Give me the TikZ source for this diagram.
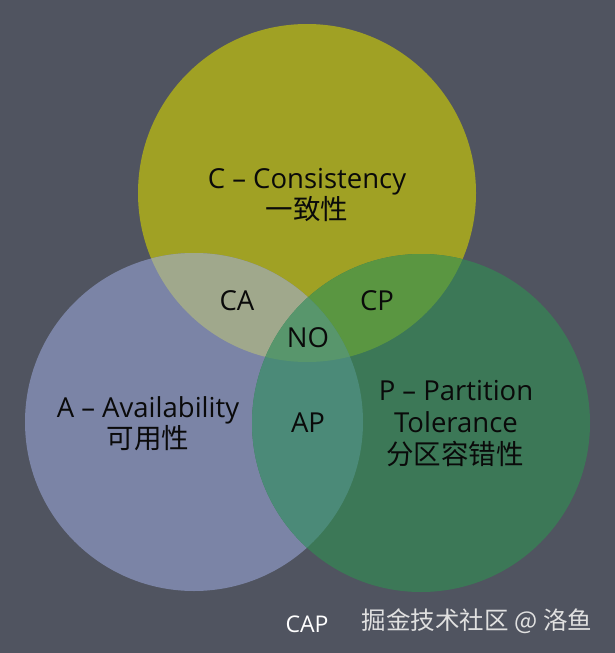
\documentclass[tikz,border=0pt]{standalone}
\usepackage{fontspec}
\setmainfont{Open Sans}
\newfontfamily\cjk{Noto Sans CJK SC}
\definecolor{bg}{RGB}{80,84,96}
\definecolor{cfill}{RGB}{160,161,36}
\definecolor{afill}{RGB}{123,132,166}
\definecolor{pfill}{RGB}{60,120,87}
\definecolor{cafill}{RGB}{160,168,140}
\definecolor{cpfill}{RGB}{90,150,65}
\definecolor{apfill}{RGB}{75,138,120}
\definecolor{nofill}{RGB}{88,150,108}
\definecolor{txt}{RGB}{10,10,10}
\tikzset{
  lbl/.style={inner sep=0pt, anchor=base, text=txt, font=\fontsize{27.5}{30}\selectfont},
  cjklbl/.style={inner sep=0pt, anchor=base, text=txt, font=\cjk\fontsize{27.5}{30}\selectfont},
  footlbl/.style={inner sep=0pt, anchor=base, text=white, font=\fontsize{23}{26}\selectfont},
  wmlbl/.style={inner sep=0pt, anchor=base, text=white!88!black, font=\cjk\fontsize{24.5}{28}\selectfont}
}
\begin{document}
\begin{tikzpicture}[x=1pt,y=-1pt]
\path[use as bounding box, fill=bg] (0,0) rectangle (615,653);
\coordinate (Cc) at (307,193);
\coordinate (Ac) at (194,422);
\coordinate (Pc) at (421,423);
% base circles
\fill[cfill] (Cc) circle (169pt);
\fill[afill] (Ac) circle (169pt);
\fill[pfill] (Pc) circle (169pt);
% pairwise overlaps
\begin{scope}
  \clip (Cc) circle (169pt);
  \fill[cafill] (Ac) circle (169pt);
\end{scope}
\begin{scope}
  \clip (Cc) circle (169pt);
  \fill[cpfill] (Pc) circle (169pt);
\end{scope}
\begin{scope}
  \clip (Ac) circle (169pt);
  \fill[apfill] (Pc) circle (169pt);
\end{scope}
% triple overlap
\begin{scope}
  \clip (Cc) circle (169pt);
  \clip (Ac) circle (169pt);
  \fill[nofill] (Pc) circle (169pt);
\end{scope}
% labels
\node[lbl] (c1) at (307,188) {C – Consistency};
\node[cjklbl] (c2) at (307,219) {一致性};
\node[lbl] (a1) at (148,417) {A – Availability};
\node[cjklbl] (a2) at (148,448) {可用性};
\node[lbl] (p1) at (456,400) {P – Partition};
\node[lbl] (p2) at (456,432) {Tolerance};
\node[cjklbl] (p3) at (455,464) {分区容错性};
\node[lbl] (ca) at (237,310) {CA};
\node[lbl] (cp) at (377,310) {CP};
\node[lbl] (no) at (308,347) {NO};
\node[lbl] (ap) at (308,432) {AP};
\node[footlbl] (cap) at (307,632) {CAP};
\node[wmlbl] (wm) at (477,629) {掘金技术社区 @ 洛鱼};
\end{tikzpicture}
\end{document}
